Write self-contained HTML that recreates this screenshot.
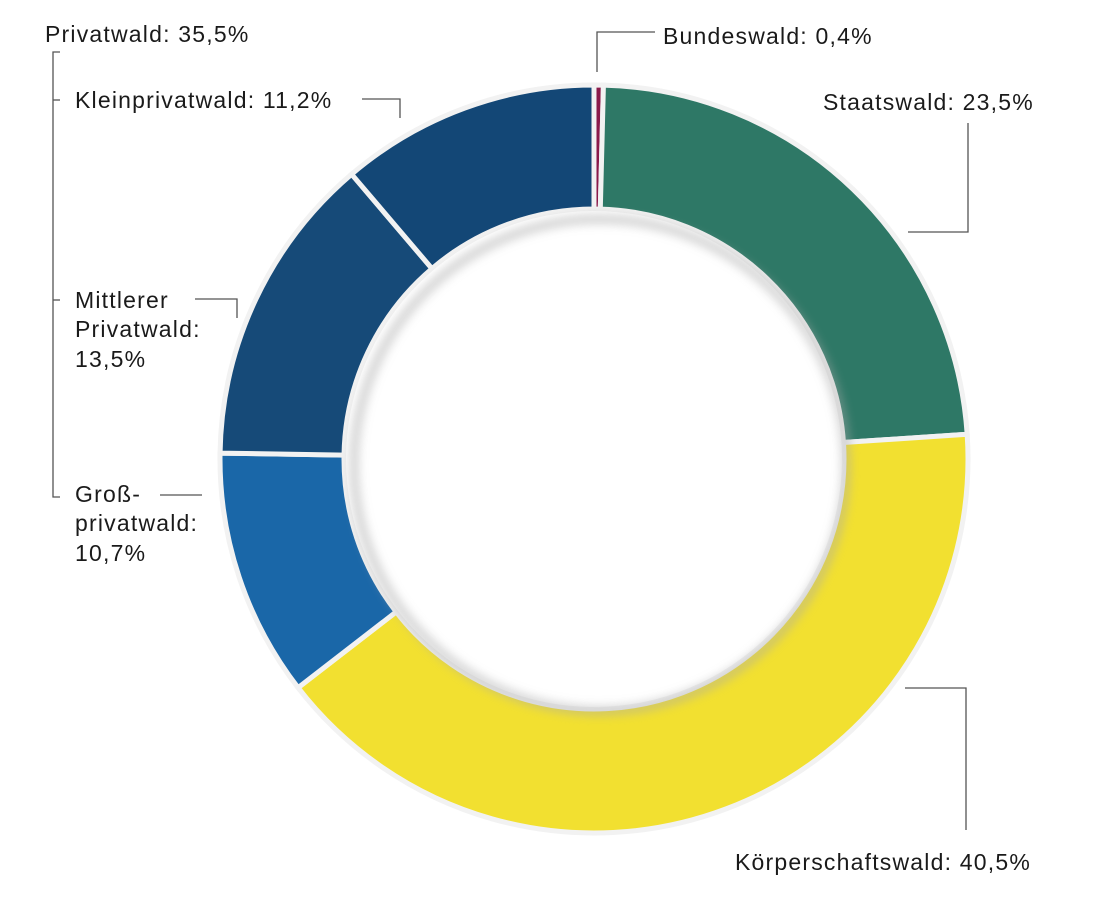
<!DOCTYPE html>
<html><head><meta charset="utf-8"><style>
body{margin:0;background:#fff;width:1108px;height:896px;overflow:hidden}
svg text{font-family:"Liberation Sans",sans-serif;font-size:23px;letter-spacing:1.2px;fill:#1a1a1a}
</style></head><body>
<svg id="s" width="1108" height="896" xmlns="http://www.w3.org/2000/svg">
<defs><filter id="sh" x="-20%" y="-20%" width="140%" height="140%"><feGaussianBlur stdDeviation="5"/></filter></defs>
<g id="ring"></g>
<g stroke="#555" stroke-width="1.3" fill="none">
<path d="M60,52 H53 V497 H60"/><path d="M53,100 H60"/><path d="M53,300 H60"/>
<path d="M362,99 H400 V118"/>
<path d="M195,299 H237 V318"/>
<path d="M160,495 H202"/>
<path d="M655,32 H597 V72"/>
<path d="M968,123 V232 H908"/>
<path d="M905,688 H966 V830"/>
</g>
<text x="45" y="42">Privatwald: 35,5%</text>
<text x="75" y="108">Kleinprivatwald: 11,2%</text>
<text x="75" y="308">Mittlerer</text><text x="75" y="337">Privatwald:</text><text x="75" y="367">13,5%</text>
<text x="75" y="502">Groß-</text><text x="75" y="531">privatwald:</text><text x="75" y="561">10,7%</text>
<text x="663" y="44">Bundeswald: 0,4%</text>
<text x="823" y="110">Staatswald: 23,5%</text>
<text x="735" y="870">Körperschaftswald: 40,5%</text>
</svg>
<script>
var cx=594,cy=459,R=374,r=250;
var segs=[[0.4,"#8b1a4a"],[23.5,"#2e7866"],[40.5,"#f2e030"],[10.7,"#1a67a8"],[13.5,"#164a78"],[11.2,"#134776"]];
function pt(a,rad){a=a*Math.PI/180;return (cx+rad*Math.sin(a)).toFixed(2)+","+(cy-rad*Math.cos(a)).toFixed(2);}
var g=document.getElementById("ring"),h='<circle cx="'+(cx+3)+'" cy="'+(cy+4)+'" r="'+(r+8)+'" fill="none" stroke="#999" stroke-width="14" filter="url(#sh)"/>';
var a=0,tot=99.8;
segs.forEach(function(s){var b=a+s[0]/tot*360;var l=(b-a)>180?1:0;
h+='<path d="M'+pt(a,R)+' A'+R+','+R+' 0 '+l+' 1 '+pt(b,R)+' L'+pt(b,r)+' A'+r+','+r+' 0 '+l+' 0 '+pt(a,r)+' Z" fill="'+s[1]+'" stroke="#f2f2f2" stroke-width="5"/>';a=b;});
h+='<circle cx="'+cx+'" cy="'+cy+'" r="'+(r-2)+'" fill="#fff"/>';
h+='<circle cx="'+(cx+6)+'" cy="'+(cy+6)+'" r="'+(r-4)+'" fill="none" stroke="#aaa" stroke-width="8" filter="url(#sh)" opacity="0.6"/>';
g.innerHTML=h;
</script>
</body></html>
